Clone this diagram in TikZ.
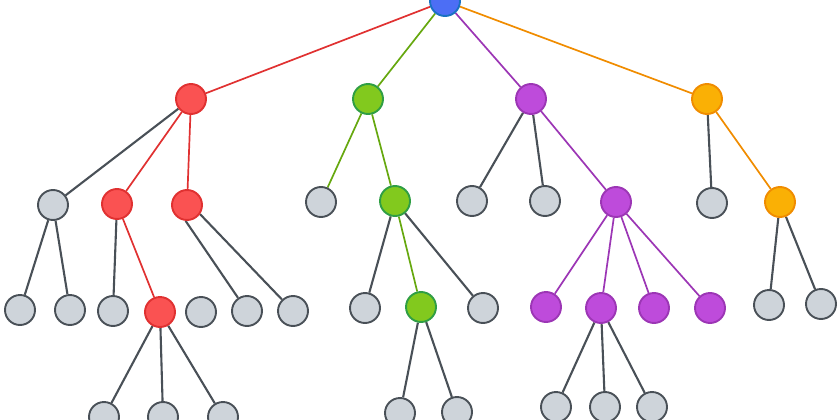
\documentclass[tikz,border=0pt]{standalone}
\usetikzlibrary{backgrounds}
\definecolor{gfill}{HTML}{CED4DA}
\definecolor{gline}{HTML}{495057}
\definecolor{rfill}{HTML}{FA5252}
\definecolor{rline}{HTML}{E03131}
\definecolor{grfill}{HTML}{82C91E}
\definecolor{grline}{HTML}{2F9E44}
\definecolor{gredge}{HTML}{66A80F}
\definecolor{pfill}{HTML}{BE4BDB}
\definecolor{pline}{HTML}{9C36B5}
\definecolor{ofill}{HTML}{FAB005}
\definecolor{oline}{HTML}{F08C00}
\definecolor{bfill}{HTML}{4C6EF5}
\definecolor{bline}{HTML}{1971C2}
\tikzset{
  nd/.style={circle, minimum size=30pt, inner sep=0pt, line width=1.9pt},
  gn/.style={nd, fill=gfill, draw=gline},
  rn/.style={nd, fill=rfill, draw=rline},
  grn/.style={nd, fill=grfill, draw=grline},
  pn/.style={nd, fill=pfill, draw=pline},
  on/.style={nd, fill=ofill, draw=oline},
  bn/.style={nd, fill=bfill, draw=bline},
  ge/.style={draw=gline, line width=2.1pt},
  re/.style={draw=rline, line width=1.7pt},
  gre/.style={draw=gredge, line width=1.7pt},
  pe/.style={draw=pline, line width=1.7pt},
  oe/.style={draw=oline, line width=1.7pt},
}
\begin{document}
\begin{tikzpicture}[x=1pt,y=-1pt]
\useasboundingbox (0,0) rectangle (840,420);
% root
\node[bn] (root) at (445,1) {};
% level 1
\node[rn] (R) at (191,99) {};
\node[grn] (G) at (368,99) {};
\node[pn] (P) at (531,99) {};
\node[on] (O) at (707,99) {};
% level 2
\node[gn] (Ra) at (53,205) {};
\node[rn] (Rb) at (117,204) {};
\node[rn] (Rc) at (187,205) {};
\node[gn] (Ga) at (321,202) {};
\node[grn] (Gb) at (395,201) {};
\node[gn] (Pa) at (472,201) {};
\node[gn] (Pb) at (545,201) {};
\node[pn] (Pc) at (616,202) {};
\node[gn] (Oa) at (712,203) {};
\node[on] (Ob) at (780,202) {};
% level 3
\node[gn] (Raa) at (20,310) {};
\node[gn] (Rab) at (70,310) {};
\node[gn] (Rba) at (113,311) {};
\node[rn] (Rbb) at (160,312) {};
\node[gn] (X) at (201,312) {};
\node[gn] (Rca) at (247,311) {};
\node[gn] (Rcb) at (293,311) {};
\node[gn] (Gba) at (365,308) {};
\node[grn] (Gbb) at (421,307) {};
\node[gn] (Gbc) at (483,308) {};
\node[pn] (Pca) at (546,307) {};
\node[pn] (Pcb) at (601,308) {};
\node[pn] (Pcc) at (654,308) {};
\node[pn] (Pcd) at (710,308) {};
\node[gn] (Oba) at (769,305) {};
\node[gn] (Obb) at (821,304) {};
% level 4
\node[gn] (Rbba) at (104,417) {};
\node[gn] (Rbbb) at (163,417) {};
\node[gn] (Rbbc) at (223,417) {};
\node[gn] (Gbba) at (400,413) {};
\node[gn] (Gbbb) at (457,412) {};
\node[gn] (Pcba) at (556,407) {};
\node[gn] (Pcbb) at (605,407) {};
\node[gn] (Pcbc) at (652,407) {};
\begin{scope}[on background layer]
\draw[re] (root) -- (R);
\draw[gre] (root) -- (G);
\draw[pe] (root) -- (P);
\draw[oe] (root) -- (O);
\draw[ge] (R) -- (Ra);
\draw[re] (R) -- (Rb);
\draw[re] (R) -- (Rc);
\draw[ge] (Ra) -- (Raa);
\draw[ge] (Ra) -- (Rab);
\draw[ge] (Rb) -- (Rba);
\draw[re] (Rb) -- (Rbb);
\draw[ge] (Rc.-95) -- (Rca);
\draw[ge] (Rc.-35) -- (Rcb);
\draw[ge] (Rbb) -- (Rbba);
\draw[ge] (Rbb) -- (Rbbb);
\draw[ge] (Rbb) -- (Rbbc);
\draw[gre] (G) -- (Ga);
\draw[gre] (G) -- (Gb);
\draw[ge] (Gb) -- (Gba);
\draw[gre] (Gb) -- (Gbb);
\draw[ge] (Gb) -- (Gbc);
\draw[ge] (Gbb) -- (Gbba);
\draw[ge] (Gbb) -- (Gbbb);
\draw[ge] (P) -- (Pa);
\draw[ge] (P) -- (Pb);
\draw[pe] (P) -- (Pc);
\draw[pe] (Pc) -- (Pca);
\draw[pe] (Pc) -- (Pcb);
\draw[pe] (Pc) -- (Pcc);
\draw[pe] (Pc) -- (Pcd);
\draw[ge] (Pcb) -- (Pcba);
\draw[ge] (Pcb) -- (Pcbb);
\draw[ge] (Pcb) -- (Pcbc);
\draw[ge] (O) -- (Oa);
\draw[oe] (O) -- (Ob);
\draw[ge] (Ob) -- (Oba);
\draw[ge] (Ob) -- (Obb);
\end{scope}
\end{tikzpicture}
\end{document}
